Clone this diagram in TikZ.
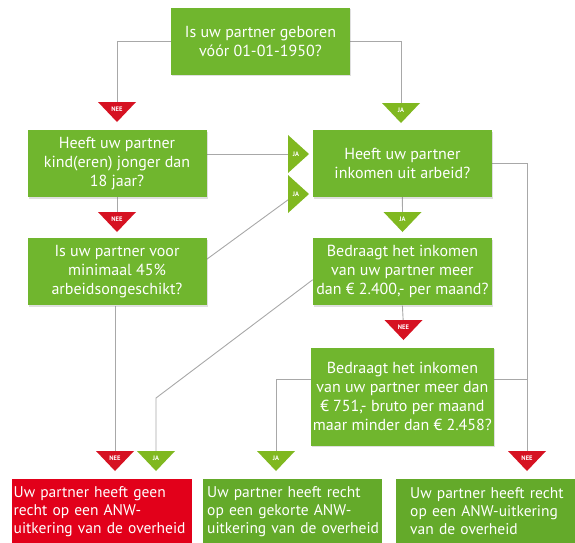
\documentclass[tikz,border=0pt]{standalone}
\usepackage{fontspec}
\setmainfont{PT Sans}
\usetikzlibrary{positioning, backgrounds, shadows}

\definecolor{boxgreen}{RGB}{112,182,46}
\definecolor{endgreen}{RGB}{100,170,42}
\definecolor{endred}{RGB}{226,0,26}
\definecolor{neered}{RGB}{214,18,34}
\definecolor{jagreen}{RGB}{128,184,32}
\definecolor{wirecol}{RGB}{168,168,168}

% down pointing flag: name, position, colour, label
\newcommand{\downflag}[4]{%
  \fill[#3, shift={(#2)}] (-19,-10) -- (19,-10) -- (0,10) -- cycle;
  \node[flagtext, yshift=3pt] (#1) at (#2) {#4};
}
% right pointing flag: name, position
\newcommand{\rightflag}[2]{%
  \fill[jagreen, shift={(#2)}] (-10,-19) -- (11,0) -- (-10,19) -- cycle;
  \node[flagtext, xshift=-2pt] (#1) at (#2) {JA};
}

\begin{document}
\begin{tikzpicture}[
  x=1pt, y=-1pt,
  qbox/.style={
    fill=boxgreen, text=white, align=center,
    font=\fontsize{16}{19}\selectfont,
    minimum width=179pt, minimum height=67pt, inner sep=2pt,
    drop shadow={shadow xshift=1pt, shadow yshift=-1.5pt, opacity=0.25}
  },
  endbox/.style={
    text=white, align=left, anchor=north west,
    font=\fontsize{15.5}{18}\selectfont,
    minimum height=64pt, inner ysep=2pt
  },
  flagtext/.style={text=white, font=\bfseries\fontsize{6.5}{7}\selectfont, inner sep=0pt},
  wire/.style={draw=wirecol, line width=0.9pt}
]
  \useasboundingbox (0,0) rectangle (575,542);
  \clip (0,0) rectangle (575,542);

  % questions
  \node[qbox] (q1) at (260.5,41) {Is uw partner geboren\\vóór 01-01-1950?};
  \node[qbox] (q2) at (117,163.5) {Heeft uw partner\\kind(eren) jonger dan\\18 jaar?};
  \node[qbox, right=106pt of q2] (q3) {Heeft uw partner\\inkomen uit arbeid?};
  \node[qbox, below=41pt of q2] (q4) {Is uw partner voor\\minimaal 45\%\\arbeidsongeschikt?};
  \node[qbox, below=41pt of q3] (q5) {Bedraagt het inkomen\\van uw partner meer\\dan € 2.400,- per maand?};
  \node[qbox, below=42pt of q5, minimum height=98pt] (q6)
    {Bedraagt het inkomen\\van uw partner meer dan\\€ 751,- bruto per maand\\maar minder dan € 2.458?};

  % outcomes
  \node[endbox, fill=endred, minimum width=180pt, inner xsep=1.5pt, text width=177pt] (e1) at (12,479)
    {\mbox{Uw partner heeft geen}\\\mbox{recht op een ANW-}\\\mbox{uitkering van de overheid}};
  \node[endbox, fill=endgreen, minimum width=179pt, inner xsep=4pt, text width=171pt] (e2) at (203,479)
    {\mbox{Uw partner heeft recht}\\\mbox{op een gekorte ANW-}\\\mbox{uitkering van de overheid}};
  \node[endbox, fill=endgreen, minimum width=179pt, inner xsep=14pt, text width=151pt] (e3) at (396,479)
    {\mbox{Uw partner heeft recht}\\\mbox{op een ANW-uitkering}\\\mbox{van de overheid}};

  % flags
  \downflag{n1}{117,112}{neered}{NEE}
  \downflag{j1}{401,113}{jagreen}{JA}
  \rightflag{j2}{298,154}
  \rightflag{j3}{298,194}
  \downflag{n2}{117,222}{neered}{NEE}
  \downflag{j4}{402.5,222}{jagreen}{JA}
  \downflag{n3}{403.5,330}{neered}{NEE}
  \downflag{n4}{115,461}{neered}{NEE}
  \downflag{j5}{156,461}{jagreen}{JA}
  \downflag{j6}{276,461}{jagreen}{JA}
  \downflag{n5}{527,461}{neered}{NEE}
  \coordinate (bend) at (156,398);

  % connectors
  \begin{scope}[on background layer]
    \draw[wire] (q1.west) -| (n1);
    \draw[wire] (q1.east) -| (j1);
    \draw[wire] (q2.east |- j2) -- (j2);
    \draw[wire] (q4.8) -- (j3);
    \draw[wire] (q2.south) -- (n2);
    \draw[wire] (q3.south) -- (j4);
    \draw[wire] (q3.east) -| (n5);
    \draw[wire] (q5.south) -- (n3);
    \draw[wire] (q5.185) -- (bend) -- (j5);
    \draw[wire] (n4 |- q4.south) -- (n4);
    \draw[wire] (q6.169) -| (j6);
    \draw[wire] (q6.11) -- (q6.11 -| n5);
  \end{scope}
\end{tikzpicture}
\end{document}
